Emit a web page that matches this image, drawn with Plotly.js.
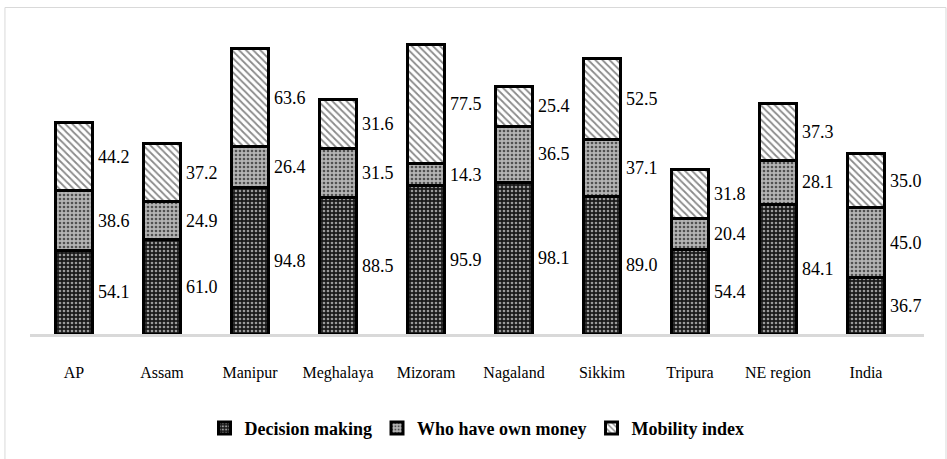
<!DOCTYPE html>
<html>
<head>
<meta charset="utf-8">
<script src="https://cdn.plot.ly/plotly-3.0.1.min.js"></script>
<style>html,body{margin:0;padding:0;background:#fff;}#chart{width:947px;height:459px;}</style>
</head>
<body>
<div id="chart"></div>
<script>
var categories = ['AP','Assam','Manipur','Meghalaya','Mizoram','Nagaland','Sikkim','Tripura','NE region','India'];
var decisionMaking = [54.1,61.0,94.8,88.5,95.9,98.1,89.0,54.4,84.1,36.7];
var ownMoney = [38.6,24.9,26.4,31.5,14.3,36.5,37.1,20.4,28.1,45.0];
var mobilityIndex = [44.2,37.2,63.6,31.6,77.5,25.4,52.5,31.8,37.3,35.0];
var seriesNames = ['Decision making','Who have own money','Mobility index'];

var FONT = '"Liberation Serif", "Times New Roman", Times, serif';
var series = [decisionMaking, ownMoney, mobilityIndex];
var patterns = [
  {shape: '.', bgcolor: '#1a1a1a', fgcolor: '#9a9a9a', size: 4, solidity: 0.35},
  {shape: '.', bgcolor: '#b4b4b4', fgcolor: '#505050', size: 4, solidity: 0.35},
  {shape: '\\', bgcolor: '#ffffff', fgcolor: '#8a8a8a', size: 5, solidity: 0.35}
];

var traces = series.map(function(vals, i){
  return {
    type: 'bar',
    name: seriesNames[i],
    x: categories,
    y: vals,
    marker: {color: patterns[i].bgcolor, pattern: patterns[i], line: {color: '#000', width: 3}},
    hoverinfo: 'x+y'
  };
});

var annotations = [];
categories.forEach(function(c, j){
  var base = 0;
  series.forEach(function(vals){
    annotations.push({
      x: c, y: base + vals[j] / 2, xref: 'x', yref: 'y',
      text: vals[j].toFixed(1), showarrow: false,
      xanchor: 'left', yanchor: 'middle', xshift: 22,
      font: {family: FONT, size: 18, color: '#000'}
    });
    base += vals[j];
  });
});

var layout = {
  width: 947, height: 459,
  margin: {l: 30, r: 23, t: 25, b: 116},
  paper_bgcolor: '#fff', plot_bgcolor: '#fff',
  barmode: 'stack',
  bargap: 0.58,
  showlegend: true,
  legend: {orientation: 'h', x: 0.5, xanchor: 'center', y: -0.305, yanchor: 'middle',
    font: {family: FONT, size: 18, color: '#000', weight: 'bold'},
    itemwidth: 30, traceorder: 'normal'},
  xaxis: {showline: true, linecolor: '#d9d9d9', linewidth: 2.5, showgrid: false, zeroline: false,
    ticks: '', ticklabelstandoff: 22,
    tickfont: {family: FONT, size: 16, color: '#000'}},
  yaxis: {range: [0, 200], visible: false, showgrid: false, zeroline: false},
  annotations: annotations,
  shapes: [{type: 'rect', xref: 'paper', yref: 'paper', x0: -0.028, x1: 1.0246, y0: -0.5, y1: 1.0566,
    line: {color: '#d9d9d9', width: 1}, fillcolor: 'rgba(0,0,0,0)', layer: 'below'}]
};

Plotly.newPlot('chart', traces, layout, {displayModeBar: false, staticPlot: true});
</script>
</body>
</html>
